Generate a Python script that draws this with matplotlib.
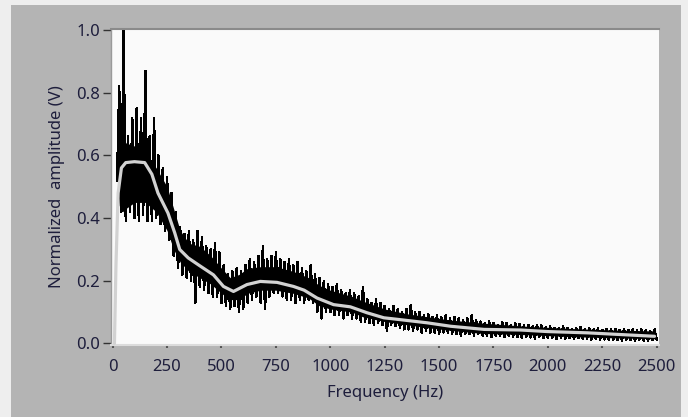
import matplotlib
matplotlib.use("Agg")
import matplotlib.pyplot as plt
from matplotlib.patches import Rectangle

# ---- data ----
# solid core of the noisy spectrum (black band)
core_freq = [22, 30, 45, 60, 100, 150, 200, 250, 280, 310, 350, 400, 450,
             500, 540, 580, 620, 680, 750, 830, 900, 950, 1000, 1100, 1150,
             1250, 1350, 1450, 1550, 1700, 1900, 2100, 2300, 2495]
core_lo = [0.50, 0.44, 0.42, 0.43, 0.45, 0.45, 0.42, 0.36, 0.30, 0.26, 0.23,
           0.21, 0.19, 0.16, 0.14, 0.14, 0.16, 0.17, 0.17, 0.16, 0.145, 0.12,
           0.11, 0.10, 0.085, 0.07, 0.06, 0.05, 0.042, 0.032, 0.028, 0.022,
           0.018, 0.015]
core_hi = [0.75, 0.70, 0.68, 0.64, 0.63, 0.61, 0.56, 0.50, 0.43, 0.36, 0.32,
           0.31, 0.28, 0.24, 0.21, 0.22, 0.24, 0.245, 0.245, 0.23, 0.21, 0.185,
           0.17, 0.15, 0.135, 0.11, 0.095, 0.085, 0.075, 0.065, 0.055, 0.048,
           0.043, 0.04]

# trace minima at 20, 40, ... 2500 Hz and maxima at 30, 50, ... 2490 Hz
dip_start, peak_start, step = 20, 30, 20
dips = [0.52, 0.42, 0.39, 0.42, 0.40, 0.39, 0.41, 0.39, 0.39, 0.40,
        0.38, 0.36, 0.33, 0.28, 0.24, 0.22, 0.21, 0.20, 0.13, 0.18,
        0.17, 0.16, 0.15, 0.15, 0.13, 0.12, 0.11, 0.12, 0.10, 0.11,
        0.13, 0.14, 0.15, 0.13, 0.11, 0.15, 0.16, 0.16, 0.15, 0.14,
        0.14, 0.13, 0.14, 0.13, 0.14, 0.13, 0.10, 0.08, 0.10, 0.10,
        0.09, 0.09, 0.08, 0.09, 0.08, 0.08, 0.07, 0.07, 0.065, 0.06,
        0.065, 0.06, 0.04, 0.06, 0.055, 0.05, 0.045, 0.045, 0.04, 0.045,
        0.035, 0.04, 0.035, 0.035, 0.03, 0.035, 0.035, 0.03, 0.03, 0.025,
        0.03, 0.03, 0.025, 0.03, 0.025, 0.025, 0.02, 0.025, 0.023, 0.02,
        0.025, 0.022, 0.02, 0.018, 0.02, 0.019, 0.016, 0.02, 0.018, 0.017,
        0.019, 0.015, 0.018, 0.016, 0.017, 0.014, 0.017, 0.015, 0.016, 0.012,
        0.014, 0.012, 0.013, 0.010, 0.012, 0.011, 0.009, 0.012, 0.010, 0.008,
        0.011, 0.009, 0.008, 0.010, 0.012]
peaks = [0.82, 1.00, 0.66, 0.72, 0.75, 0.72, 0.87, 0.66, 0.72, 0.60,
         0.56, 0.53, 0.48, 0.42, 0.37, 0.35, 0.36, 0.33, 0.36, 0.34,
         0.31, 0.30, 0.32, 0.29, 0.25, 0.22, 0.23, 0.24, 0.23, 0.25,
         0.27, 0.26, 0.28, 0.31, 0.27, 0.28, 0.29, 0.27, 0.26, 0.27,
         0.25, 0.26, 0.24, 0.23, 0.25, 0.22, 0.21, 0.20, 0.19, 0.18,
         0.19, 0.17, 0.16, 0.17, 0.16, 0.15, 0.18, 0.14, 0.13, 0.14,
         0.13, 0.12, 0.11, 0.12, 0.11, 0.10, 0.11, 0.124, 0.10, 0.10,
         0.09, 0.095, 0.085, 0.09, 0.085, 0.09, 0.08, 0.085, 0.08, 0.075,
         0.08, 0.09, 0.075, 0.07, 0.065, 0.07, 0.065, 0.06, 0.068, 0.065,
         0.06, 0.065, 0.062, 0.058, 0.06, 0.055, 0.06, 0.058, 0.052, 0.055,
         0.05, 0.048, 0.055, 0.05, 0.047, 0.05, 0.052, 0.046, 0.05, 0.045,
         0.048, 0.044, 0.046, 0.045, 0.047, 0.043, 0.046, 0.044, 0.045, 0.042,
         0.045, 0.043, 0.04, 0.045]

# smoothed spectrum (light grey curve)
smooth_freq = [8, 15, 25, 40, 60, 100, 147, 180, 208, 254, 285, 308, 347,
               400, 463, 509, 555, 617, 678, 755, 831, 880, 939, 1015, 1092,
               1169, 1246, 1322, 1445, 1553, 1706, 1875, 2000, 2182, 2490]
smooth_amp = [0.0, 0.25, 0.48, 0.56, 0.577, 0.58, 0.577, 0.54, 0.48, 0.416,
              0.353, 0.30, 0.273, 0.248, 0.219, 0.182, 0.166, 0.188, 0.198,
              0.195, 0.182, 0.17, 0.145, 0.124, 0.117, 0.098, 0.082, 0.076,
              0.066, 0.055, 0.045, 0.043, 0.038, 0.034, 0.023]

x_ticks = [0, 250, 500, 750, 1000, 1250, 1500, 1750, 2000, 2250, 2500]
y_ticks = [0.0, 0.2, 0.4, 0.6, 0.8, 1.0]

# interleave minima and maxima into one trace
trace_f, trace_a = [], []
for i, d in enumerate(dips):
    trace_f.append(dip_start + step * i)
    trace_a.append(d)
    if i < len(peaks):
        trace_f.append(peak_start + step * i)
        trace_a.append(peaks[i])

plt.rcParams['font.family'] = ['Noto Sans', 'DejaVu Sans']
W, H = 688, 417
fig = plt.figure(figsize=(W / 100, H / 100), dpi=100, facecolor='#eeeeee')

# grey panel
fig.add_artist(Rectangle((11 / W, 0), (681 - 11) / W, (H - 5) / H,
                         transform=fig.transFigure, facecolor='#b4b4b4',
                         edgecolor='none', zorder=-5))

ax = fig.add_axes([111 / W, 1 - 345 / H, 548 / W, 316 / H])
ax.set_zorder(2)
ax.set_facecolor('#fafafa')

# noisy spectrum: solid core plus the min/max trace
ax.fill_between(core_freq, core_lo, core_hi, color='black', lw=0, zorder=2)
ax.plot(trace_f, trace_a, color='black', lw=1.0, antialiased=False, zorder=2)

ax.plot(smooth_freq, smooth_amp, color='#d2d2d2', lw=2.3, zorder=3,
        solid_capstyle='round')

ax.set_xlim(-7.8, 2510.6)
ax.set_ylim(-0.0048, 1.0032)
ax.set_xticks(x_ticks)
ax.set_xticklabels([str(t) for t in x_ticks])
ax.set_yticks(y_ticks)
ax.set_yticklabels([f"{t:.1f}" for t in y_ticks])

tc = '#1e1e3c'
ax.tick_params(axis='y', direction='out', length=6, width=1.0, color='#333333',
               labelsize=12, labelcolor=tc, pad=2)
ax.tick_params(axis='x', direction='out', length=2, width=1.5, color='#555555',
               labelsize=12, labelcolor=tc, pad=8)

ax.spines['right'].set_visible(False)
ax.spines['left'].set_color('#9a9a9a')
ax.spines['bottom'].set_color('#dcdcdc')
ax.spines['left'].set_linewidth(1.0)
ax.spines['bottom'].set_linewidth(1.5)
ax.spines['top'].set_color('#8a8a8a')
ax.spines['top'].set_linewidth(1.5)

ax.set_xlabel('Frequency (Hz)', fontsize=12, color=tc, labelpad=7)
ax.set_ylabel('Normalized  amplitude (V)', fontsize=12, color=tc, labelpad=8)

fig.savefig('out.png', dpi=100, facecolor=fig.get_facecolor())
